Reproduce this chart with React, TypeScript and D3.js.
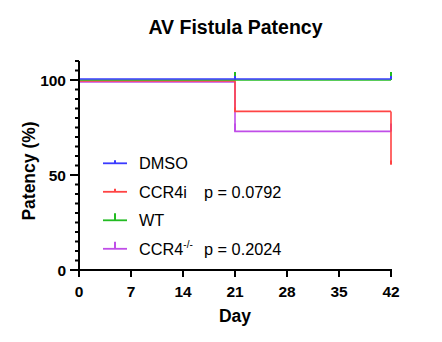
import React from "react";
import * as d3 from "d3";

const groups = ["DMSO", "CCR4i", "WT", "CCR4-/-"];
const days = [0, 21, 42];
const dmso = [100, 100, 100];
const ccr4i = [100, 84, 56];
const wt = [100, 100, 100];
const ccr4ko = [100, 74, 74];
const censorDays = [21, 42];
const pValues = ["", "p = 0.0792", "", "p = 0.2024"];
const xTicks = [0, 7, 14, 21, 28, 35, 42];
const yMajor = [0, 50, 100];
const colors = ["#3a3aff", "#ff4444", "#22bb22", "#c04ee8"];
const tickSizes = [3, 4, 8, 8];
const offsets = [-1, 1, 0, 2];

const W = 442, H = 342;
const x = d3.scaleLinear().domain([0, 42]).range([79, 391]);
const y = d3.scaleLinear().domain([0, 110]).range([270, 61]);
const F = "Arial, 'Liberation Sans', Helvetica, sans-serif";

export default function App() {
  const seriesVals = [dmso, ccr4i, wt, ccr4ko];
  const line = d3
    .line<[number, number]>()
    .x((d) => x(d[0]))
    .y((d) => y(d[1]))
    .curve(d3.curveStepAfter);
  const minor = d3.range(0, 111, 5);
  const drawOrder = [3, 1, 2, 0];
  const legendY = [163.3, 191.8, 220.3, 248.8];
  return (
    <svg width={W} height={H} style={{ position: "absolute", left: 0, top: 0, background: "#fff" }}>
      <text x={235.5} y={34} textAnchor="middle" fontFamily={F} fontWeight="bold" fontSize={19.5}>
        AV Fistula Patency
      </text>
      {drawOrder.map((i) => {
        const vals = seriesVals[i];
        const pts: [number, number][] = [[days[0], vals[0]], [days[1], vals[1]], [days[2], vals[1]]];
        const lastDrop: [number, number][] = [[days[2], vals[1]], [days[2], vals[2]]];
        const path = (line(pts) || "") + (vals[2] !== vals[1] ? line(lastDrop) : "");
        return (
          <g key={i} transform={`translate(0,${offsets[i]})`}>
            <path d={path} fill="none" stroke={colors[i]} strokeWidth={1.6} />
            {censorDays.map((cd) => {
              const v = cd === 42 ? vals[2] : vals[1];
              return (
                <line key={cd} x1={x(cd)} x2={x(cd)} y1={y(v)} y2={y(v) - tickSizes[i]} stroke={colors[i]} strokeWidth={2} />
              );
            })}
          </g>
        );
      })}
      <line x1={79} x2={79} y1={y(110)} y2={y(0) + 1} stroke="#000" strokeWidth={2} />
      <line x1={78} x2={x(42) + 1} y1={y(0)} y2={y(0)} stroke="#000" strokeWidth={2} />
      {minor.map((v) => {
        const major = yMajor.includes(v);
        return (
          <line key={v} x1={major ? 70 : 75} x2={79} y1={y(v)} y2={y(v)} stroke="#000" strokeWidth={2} />
        );
      })}
      {yMajor.map((v) => (
        <text key={v} x={66} y={y(v) + 5.5} textAnchor="end" fontFamily={F} fontWeight="bold" fontSize={15.5}>
          {v}
        </text>
      ))}
      {xTicks.map((t) => (
        <g key={t}>
          <line x1={x(t)} x2={x(t)} y1={y(0)} y2={y(0) + 7} stroke="#000" strokeWidth={2} />
          <text x={x(t)} y={297} textAnchor="middle" fontFamily={F} fontWeight="bold" fontSize={15.5}>
            {t}
          </text>
        </g>
      ))}
      <text x={235} y={322} textAnchor="middle" fontFamily={F} fontWeight="bold" fontSize={17.5}>
        Day
      </text>
      <text
        transform={`translate(35,171) rotate(-90)`}
        textAnchor="middle"
        fontFamily={F}
        fontWeight="bold"
        fontSize={17.5}
      >
        Patency (%)
      </text>
      {groups.map((g, i) => (
        <g key={g}>
          <line x1={103} x2={127} y1={legendY[i]} y2={legendY[i]} stroke={colors[i]} strokeWidth={1.8} />
          <line x1={115} x2={115} y1={legendY[i]} y2={legendY[i] - (tickSizes[i] > 4 ? 7 : 3)} stroke={colors[i]} strokeWidth={2} />
          <text x={139} y={legendY[i] + 6} fontFamily={F} fontSize={16.3}>
            {g === "CCR4-/-" ? (
              <>
                CCR4
                <tspan fontSize={10} dy={-7}>-/-</tspan>
              </>
            ) : (
              g
            )}
          </text>
          {pValues[i] && (
            <text x={204} y={legendY[i] + 6} fontFamily={F} fontSize={16.3}>
              {pValues[i]}
            </text>
          )}
        </g>
      ))}
    </svg>
  );
}
